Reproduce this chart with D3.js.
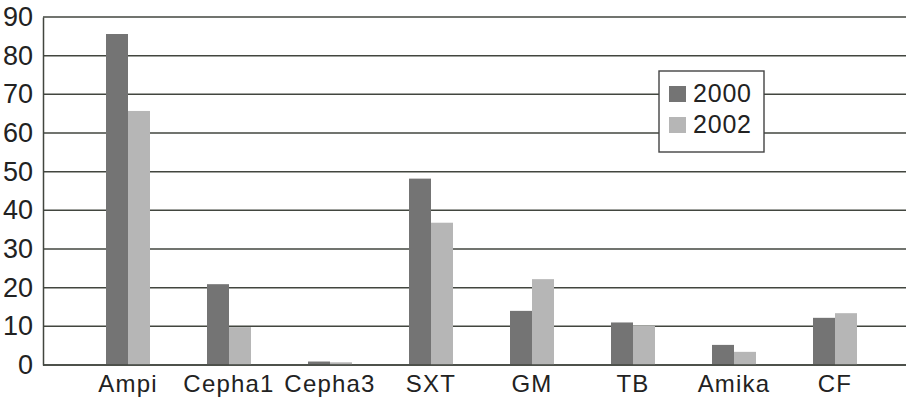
<!DOCTYPE html>
<html>
<head>
<meta charset="utf-8">
<script src="https://cdn.jsdelivr.net/npm/d3@7"></script>
<style>
  html, body { margin: 0; padding: 0; background: #fff; }
  svg { display: block; }
  text { font-family: "Liberation Sans", Arial, sans-serif; fill: #222; }
</style>
</head>
<body>
<svg id="chart" width="906" height="400"></svg>
<script>
// Antibiotic categories and the two survey years
const categories = ["Ampi", "Cepha1", "Cepha3", "SXT", "GM", "TB", "Amika", "CF"];
const seriesNames = ["2000", "2002"];
const values2000 = [85.6, 20.9, 0.9, 48.2, 14.0, 11.0, 5.2, 12.2];
const values2002 = [65.7, 9.8, 0.7, 36.8, 22.2, 10.1, 3.4, 13.4];
const yTicks = [0, 10, 20, 30, 40, 50, 60, 70, 80, 90];
const colors = ["#747474", "#b6b6b6"];

const seriesValues = [values2000, values2002];
const rows = categories.map((c, i) => ({
  category: c,
  values: seriesNames.map((s, j) => ({ series: s, value: seriesValues[j][i] }))
}));

const svg = d3.select("#chart");
const plotLeft = 43, plotRight = 906, plotTop = 17, plotBottom = 365;
const lineColor = "#42463f";

const y = d3.scaleLinear().domain([0, 90]).range([plotBottom, plotTop]);
const pi = 0.5644;
const x0 = d3.scaleBand().domain(categories).range([77.5, 885.5])
  .paddingInner(pi).paddingOuter(pi / 2);
const x1 = d3.scaleBand().domain(seriesNames).range([0, x0.bandwidth()]).padding(0);
const color = d3.scaleOrdinal().domain(seriesNames).range(colors);

// Horizontal grid lines
svg.append("g")
  .selectAll("line")
  .data(yTicks)
  .join("line")
  .attr("x1", plotLeft).attr("x2", plotRight)
  .attr("y1", d => y(d)).attr("y2", d => y(d))
  .attr("stroke", lineColor).attr("stroke-width", 1.5);

// Left axis
const yAxis = svg.append("g")
  .attr("transform", `translate(${plotLeft},0)`)
  .call(d3.axisLeft(y).tickValues(yTicks).tickSize(0).tickPadding(10));
yAxis.select(".domain").attr("stroke", lineColor).attr("stroke-width", 1.5);
yAxis.selectAll("text")
  .attr("font-size", 27)
  .attr("font-family", "Liberation Sans, Arial, sans-serif")
  .attr("fill", "#222");

// Bars
const groups = svg.append("g")
  .selectAll("g")
  .data(rows)
  .join("g")
  .attr("transform", d => `translate(${x0(d.category)},0)`);

groups.selectAll("rect")
  .data(d => d.values)
  .join("rect")
  .attr("x", d => x1(d.series))
  .attr("width", x1.bandwidth())
  .attr("y", d => y(d.value))
  .attr("height", d => y(0) - y(d.value))
  .attr("fill", d => color(d.series));

// Redraw the baseline over the bars
svg.append("line")
  .attr("x1", plotLeft).attr("x2", plotRight)
  .attr("y1", y(0)).attr("y2", y(0))
  .attr("stroke", lineColor).attr("stroke-width", 1.5);

// Category labels
const xAxis = svg.append("g")
  .attr("transform", `translate(0,${plotBottom})`)
  .call(d3.axisBottom(x0).tickSize(0).tickPadding(10));
xAxis.select(".domain").remove();
xAxis.selectAll("text")
  .attr("font-size", 24)
  .attr("letter-spacing", 1.2)
  .attr("font-family", "Liberation Sans, Arial, sans-serif")
  .attr("fill", "#222");

// Legend
const legend = svg.append("g").attr("transform", "translate(659,71)");
legend.append("rect")
  .attr("width", 105).attr("height", 81)
  .attr("fill", "#fff").attr("stroke", "#444").attr("stroke-width", 1.4);
const items = legend.selectAll("g.item")
  .data(seriesNames)
  .join("g")
  .attr("class", "item")
  .attr("transform", (d, i) => `translate(10,${15 + i * 31})`);
items.append("rect")
  .attr("width", 17).attr("height", 16)
  .attr("fill", d => color(d));
items.append("text")
  .attr("x", 24).attr("y", 16)
  .attr("font-size", 25)
  .attr("letter-spacing", 0.8)
  .text(d => d);
</script>
</body>
</html>
